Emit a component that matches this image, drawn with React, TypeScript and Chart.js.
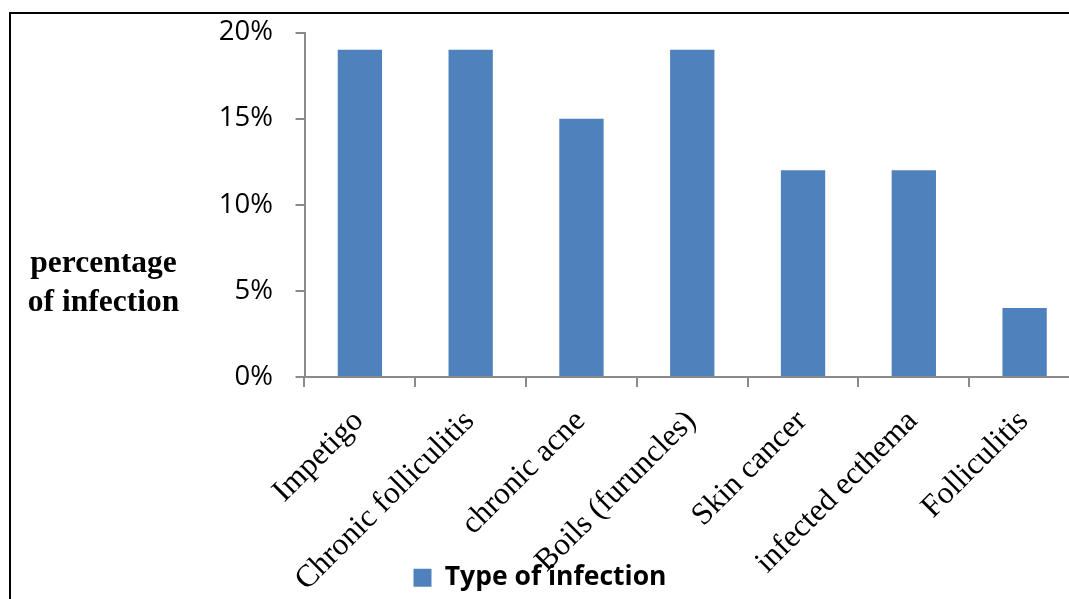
import React, { useEffect, useRef } from "react";
import { Chart, registerables } from "chart.js";

Chart.register(...registerables);

const categories = [
  "Impetigo",
  "Chronic folliculitis",
  "chronic acne",
  "Boils (furuncles)",
  "Skin cancer",
  "infected ecthema",
  "Folliculitis",
];
const values = [19, 19, 15, 19, 12, 12, 4];
const yMin = 0;
const yMax = 20;
const yStep = 5;
const seriesLabel = "Type of infection";
const yTitleLines = ["percentage", "of infection"];

const AXIS_GRAY = "#8a8a8a";
const BAR_BLUE = "#4F81BD";

// let the rotated x labels run past the axis box (they overlap the legend, as in the reference)
const unclipXLabels = {
  id: "unclipXLabels",
  afterLayout(chart: any) {
    const x = chart.scales.x;
    if (x) x.bottom = chart.height;
  },
};

export default function App() {
  const canvasRef = useRef<HTMLCanvasElement | null>(null);

  useEffect(() => {
    document.body.style.margin = "0";
    document.body.style.overflow = "hidden";
    const canvas = canvasRef.current;
    if (!canvas) return;
    const chart = new Chart(canvas, {
      type: "bar",
      data: {
        labels: categories,
        datasets: [
          {
            label: seriesLabel,
            data: values,
            backgroundColor: BAR_BLUE,
            borderWidth: 0,
            categoryPercentage: 1,
            barPercentage: 0.4,
          },
        ],
      },
      plugins: [unclipXLabels],
      options: {
        responsive: false,
        animation: false,
        layout: { padding: { top: 32.5, left: 0, right: 0, bottom: -2 } },
        plugins: {
          tooltip: { enabled: false },
          legend: {
            position: "bottom",
            labels: {
              boxWidth: 18,
              boxHeight: 18,
              padding: 5,
              color: "#000",
              font: { family: "'Open Sans', sans-serif", size: 26.5, weight: "bold" },
            },
          },
        },
        scales: {
          x: {
            offset: true,
            afterFit: (s: any) => {
              s.height = 182.5;
            },
            grid: {
              offset: true,
              drawOnChartArea: false,
              drawTicks: true,
              tickLength: 10,
              color: AXIS_GRAY,
              lineWidth: 2,
            },
            border: { display: true, color: AXIS_GRAY, width: 2 },
            ticks: {
              minRotation: 45,
              maxRotation: 45,
              autoSkip: false,
              padding: 16,
              labelOffset: -1,
              color: "#000",
              font: { family: "'Liberation Serif', 'Times New Roman', serif", size: 31.5 },
            },
          },
          y: {
            min: yMin,
            max: yMax,
            afterFit: (s: any) => {
              s.width = 304.5;
              s.paddingTop = 0;
              s.paddingBottom = 0;
            },
            grid: {
              drawOnChartArea: false,
              drawTicks: true,
              tickLength: 9,
              color: AXIS_GRAY,
              lineWidth: 2,
            },
            border: { display: true, color: AXIS_GRAY, width: 2 },
            ticks: {
              stepSize: yStep,
              padding: 22.5,
              color: "#000",
              font: { family: "'Open Sans', sans-serif", size: 27.5 },
              callback: (v: any) => `${v}%`,
            },
          },
        },
      },
    });
    return () => chart.destroy();
  }, []);

  return (
    <div
      style={{
        position: "relative",
        width: 1069,
        height: 599,
        overflow: "hidden",
        background: "#fff",
      }}
    >
      <div style={{ position: "absolute", left: 0, top: 0, width: 1080, height: 599 }}>
        <canvas ref={canvasRef} width={1080} height={599} style={{ display: "block" }} />
      </div>
      <div
        style={{
          position: "absolute",
          left: 9,
          top: 12,
          width: 1100,
          height: 700,
          borderLeft: "2px solid #000",
          borderTop: "2px solid #000",
          pointerEvents: "none",
        }}
      />
      <div
        style={{
          position: "absolute",
          left: 0,
          top: 242,
          width: 207,
          textAlign: "center",
          fontFamily: "'Liberation Serif', 'Times New Roman', serif",
          fontWeight: "bold",
          fontSize: 31.5,
          lineHeight: "39px",
          color: "#000",
        }}
      >
        {yTitleLines.map((t) => (
          <div key={t}>{t}</div>
        ))}
      </div>
    </div>
  );
}
